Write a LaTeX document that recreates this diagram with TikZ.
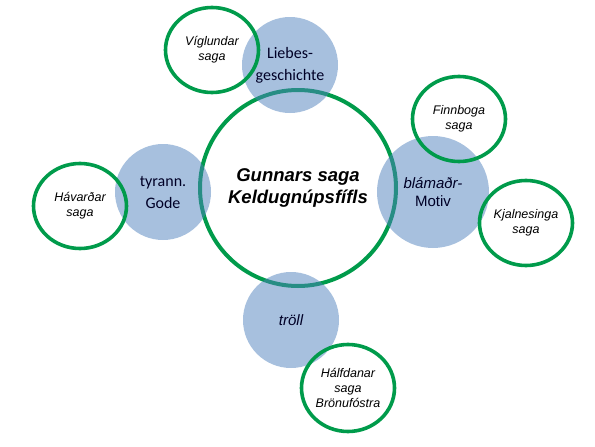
\documentclass[tikz,border=0pt]{standalone}
\usepackage{fontspec}
\setmainfont{Liberation Sans}
\newfontfamily\calibri{Carlito}
\usetikzlibrary{shapes.geometric}
\definecolor{sagagreen}{RGB}{0,155,75}
\definecolor{motivblue}{RGB}{79,129,189}

\begin{document}
\begin{tikzpicture}[x=1pt, y=-1pt,
    core/.style={circle, draw=sagagreen, line width=4pt, fill=white,
      minimum size=196pt, inner sep=0pt, align=center,
      font=\fontsize{18.5}{22}\selectfont\bfseries\itshape},
    topic/.style={circle, fill=motivblue, fill opacity=0.5, text opacity=1,
      minimum size=96pt, inner sep=0pt, align=center, text=black!85!blue,
      font=\calibri\fontsize{16}{22}\selectfont},
    saga/.style={ellipse, draw=sagagreen, line width=3.6pt,
      minimum width=93pt, minimum height=85pt, inner sep=0pt, align=center,
      font=\fontsize{12.5}{15}\selectfont\itshape}]
    \useasboundingbox (0,0) rectangle (595,447);

    % Mitte
    \node[core] (gunnar) at (298,188) {Gunnars saga\\Keldugnúpsfífls};

    % Motive
    \node[topic] (liebe) at (290,65) {Liebes-\\geschichte};
    \node[topic] (gode) at (163,192) {tyrann.\\Gode};
    \node[topic, minimum size=112pt, font=\fontsize{15}{18}\selectfont]
      (blamadr) at (433,192) {\textit{blámaðr-}\\Motiv};
    \node[topic, font=\fontsize{15}{18}\selectfont\itshape]
      (troll) at (291,320) {tröll};

    % Sagas
    \node[saga] (viglund) at (212,50) {Víglundar\\saga};
    \node[saga] (havard) at (80,206) {Hávarðar\\saga};
    \node[saga] (finnboga) at (459,119) {Finnboga\\saga};
    \node[saga] (kjalnes) at (526,223) {Kjalnesinga\\saga};
    \node[saga, minimum height=87pt] (halfdan) at (348,388)
      {Hálfdanar\\saga\\Brönufóstra};
\end{tikzpicture}
\end{document}
